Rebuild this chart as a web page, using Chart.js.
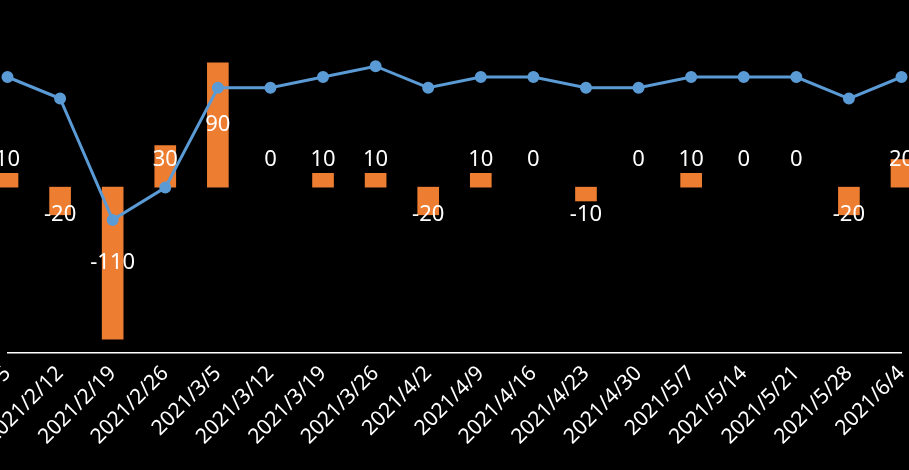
<!DOCTYPE html>
<html><head><meta charset="utf-8">
<script src="https://cdn.jsdelivr.net/npm/chart.js@4"></script>
<style>html,body{margin:0;padding:0;background:#000;}#w{width:909px;height:470px;}</style>
</head><body><div id="w"><canvas id="c"></canvas></div>
<script>
const categories=["2021/2/5","2021/2/12","2021/2/19","2021/2/26","2021/3/5","2021/3/12","2021/3/19","2021/3/26","2021/4/2","2021/4/9","2021/4/16","2021/4/23","2021/4/30","2021/5/7","2021/5/14","2021/5/21","2021/5/28","2021/6/4"];
const barValues=[10,-20,-110,30,90,0,10,10,-20,10,0,-10,0,10,0,0,-20,20];
const lineValues=[282,260,136,169,271,271,282,293,271,282,282,271,271,282,282,282,260,282];

const labelPlugin={id:'lbl',afterDatasetsDraw(chart){
  const ctx=chart.ctx, meta=chart.getDatasetMeta(1), ys=chart.scales.y, base=ys.getPixelForValue(0);
  ctx.save();ctx.fillStyle='#fff';ctx.font='22px "Noto Sans", sans-serif';ctx.textAlign='center';ctx.textBaseline='middle';
  meta.data.forEach((b,i)=>{const v=barValues[i];const py=ys.getPixelForValue(v);let y;
    if(Math.abs(py-base)>60) y=(py+base)/2; else y=v>=0?base-27:base+28;
    ctx.fillText(String(v),b.x,y);});
  ctx.restore();}};

new Chart(document.getElementById('c'),{
  data:{labels:categories,datasets:[
    {type:'line',data:lineValues,yAxisID:'y2',borderColor:'#5b9bd5',backgroundColor:'#5b9bd5',borderWidth:3,pointRadius:4.5,pointHoverRadius:4.5,tension:0,clip:false,order:0},
    {type:'bar',data:barValues,yAxisID:'y',backgroundColor:c=>barValues[c.dataIndex]===0?'rgba(0,0,0,0)':'#ed7d31',barThickness:21,clip:false,order:1}
  ]},
  options:{responsive:true,maintainAspectRatio:false,animation:false,
    layout:{padding:{left:5,right:0,top:0,bottom:0}},
    plugins:{legend:{display:false},tooltip:{enabled:false}},
    scales:{
      x:{offset:false,grid:{display:false,drawTicks:false},border:{color:'#fff',width:1.5},
        ticks:{color:'#fff',font:{size:21,family:'"Noto Sans", sans-serif'},minRotation:45,maxRotation:45,autoSkip:false,padding:8},
        afterFit(s){s.height=117;s.paddingLeft=0;s.paddingRight=0;}},
      y:{display:false,min:-120,max:130},
      y2:{display:false,min:0,max:353}
    }},
  plugins:[labelPlugin]
});
</script></body></html>
